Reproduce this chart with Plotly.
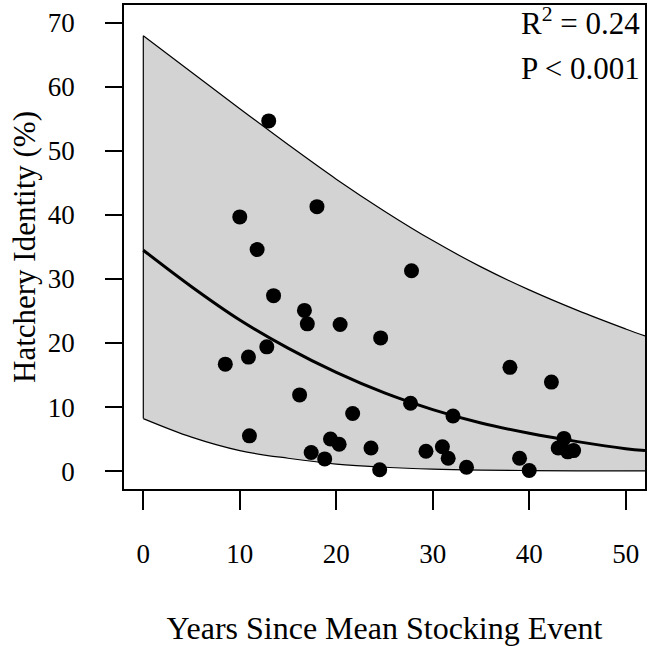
import plotly.graph_objects as go

# Observed points (years since mean stocking event, hatchery identity %)
years = [8.5, 10.0, 10.9, 11.0, 11.8, 12.8, 13.0, 13.5, 16.2, 16.7, 17.0, 17.4,
         18.0, 18.8, 19.4, 20.3, 20.4, 21.7, 23.6, 24.5, 24.6, 27.7, 27.8, 29.3,
         31.0, 31.6, 32.1, 33.5, 38.0, 39.0, 40.0, 42.3, 43.0, 43.6, 44.0, 44.6]
identity = [16.7, 39.7, 17.8, 5.5, 34.6, 19.4, 54.7, 27.4, 11.9, 25.1, 23.0, 2.9,
            41.3, 1.9, 5.0, 4.2, 22.9, 9.0, 3.6, 0.2, 20.8, 10.6, 31.3, 3.1,
            3.8, 2.0, 8.6, 0.6, 16.2, 2.0, 0.1, 13.9, 3.6, 5.1, 3.0, 3.2]

# Fitted curve and band
curve_x = [0, 5, 10, 15, 20, 25, 30, 35, 40, 45, 50, 52]
fit_mean = [34.5, 28.8, 23.6, 19.2, 15.4, 12.2, 9.6, 7.5, 5.9, 4.6, 3.5, 3.2]
band_upper = [68.0, 62.3, 56.6, 51.0, 45.6, 40.6, 36.0, 31.9, 28.3, 25.1, 22.2, 21.1]
band_lower = [8.2, 5.3, 3.2, 2.0, 1.1, 0.6, 0.3, 0.15, 0.08, 0.04, 0.02, 0.02]

x_ticks = [0, 10, 20, 30, 40, 50]
y_ticks = [0, 10, 20, 30, 40, 50, 60, 70]

stat_lines = ["R<sup>2</sup> = 0.24", "P < 0.001"]

FONT = "Liberation Serif, Times New Roman, serif"

fig = go.Figure()
fig.add_trace(go.Scatter(x=curve_x, y=band_lower, mode="lines",
                         line=dict(color="black", width=1.2, shape="spline"),
                         hoverinfo="skip", showlegend=False))
fig.add_trace(go.Scatter(x=curve_x, y=band_upper, mode="lines", fill="tonexty",
                         fillcolor="#d3d3d3",
                         line=dict(color="black", width=1.2, shape="spline"),
                         hoverinfo="skip", showlegend=False))
fig.add_trace(go.Scatter(x=[curve_x[0], curve_x[0]], y=[band_lower[0], band_upper[0]],
                         mode="lines", line=dict(color="black", width=1.2),
                         hoverinfo="skip", showlegend=False))
fig.add_trace(go.Scatter(x=curve_x, y=fit_mean, mode="lines",
                         line=dict(color="black", width=3, shape="spline"),
                         showlegend=False))
fig.add_trace(go.Scatter(x=years, y=identity, mode="markers",
                         marker=dict(color="black", size=15),
                         showlegend=False))

for txt, ypos in zip(stat_lines, [0.965, 0.868]):
    fig.add_annotation(x=1, y=ypos, xref="paper", yref="paper",
                       xanchor="right", yanchor="middle", xshift=-3,
                       text=txt, align="right", showarrow=False,
                       font=dict(family=FONT, size=31, color="black"))

axis_common = dict(showgrid=False, zeroline=False, showline=True, linecolor="black",
                   linewidth=1.5, mirror=True, ticks="outside", tickcolor="black",
                   tickwidth=1.5, tickfont=dict(family=FONT, size=27, color="black"))

fig.update_xaxes(range=[-2, 52], tickvals=x_ticks, ticklen=19, ticklabelstandoff=21,
                 title=dict(text="Years Since Mean Stocking Event", standoff=48,
                            font=dict(family=FONT, size=32, color="black")),
                 **axis_common)
fig.update_yaxes(range=[-2.8, 72.8], tickvals=y_ticks, ticklen=17, ticklabelstandoff=25,
                 title=dict(text="Hatchery Identity (%)", standoff=3,
                            font=dict(family=FONT, size=31, color="black")),
                 **axis_common)

fig.update_layout(width=648, height=646, margin=dict(l=124, r=1, t=5, b=157),
                  plot_bgcolor="white", paper_bgcolor="white",
                  font=dict(family=FONT, color="black"))

fig.write_html("out.html", config={"displayModeBar": False},
               post_script="document.body.style.margin='0';document.body.style.overflow='hidden';")
